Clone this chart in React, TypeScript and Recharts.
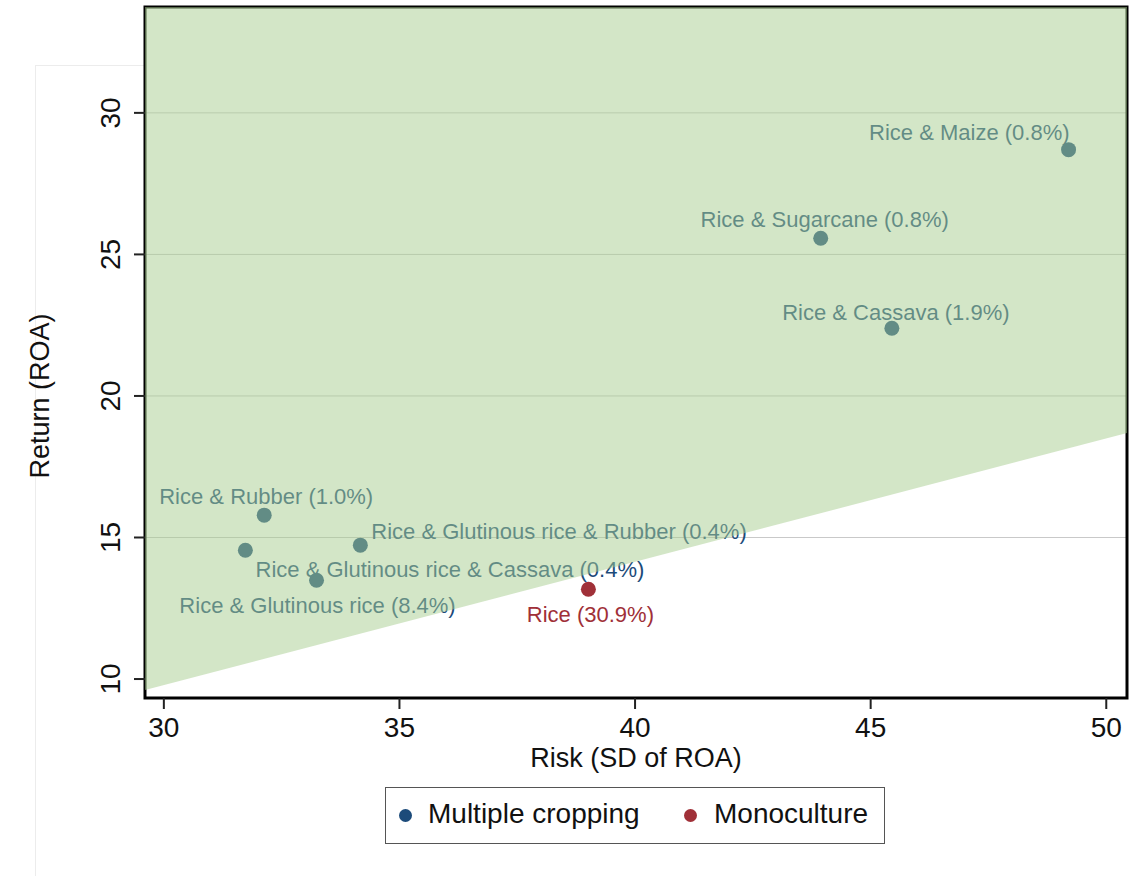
import {
  ComposedChart, Scatter, Area, XAxis, YAxis, CartesianGrid, ReferenceArea, Label,
} from 'recharts'

const NAVY = '#1c4b7a'
const RED = '#a03038'
const FONT = '"Liberation Sans", Arial, Helvetica, sans-serif'

// risk (SD of ROA), return (ROA)
const MULTIPLE = [
  { name: 'Rice & Maize (0.8%)', x: 49.2, y: 28.7 },
  { name: 'Rice & Sugarcane (0.8%)', x: 43.94, y: 25.57 },
  { name: 'Rice & Cassava (1.9%)', x: 45.45, y: 22.39 },
  { name: 'Rice & Rubber (1.0%)', x: 32.13, y: 15.79 },
  { name: 'Rice & Glutinous rice (8.4%)', x: 31.73, y: 14.55 },
  { name: 'Rice & Glutinous rice & Rubber (0.4%)', x: 34.17, y: 14.73 },
  { name: 'Rice & Glutinous rice & Cassava (0.4%)', x: 33.24, y: 13.49 },
]
const MONO = [{ name: 'Rice (30.9%)', x: 39.01, y: 13.17 }]

// shaded region above this line
const FRONTIER = [
  { x: 29.6, y: 9.61 },
  { x: 50.44, y: 18.69 },
]

const X_DOMAIN = [29.6, 50.44]
const Y_DOMAIN = [9.33, 33.74]
const X_TICKS = [30, 35, 40, 45, 50]
const Y_TICKS = [10, 15, 20, 25, 30]
const GRID_Y = [15, 20, 25, 30]

// label placement relative to marker (px)
const LABEL_POS: Record<string, { dx: number; dy: number; anchor: 'start' | 'middle' | 'end' }> = {
  'Rice & Maize (0.8%)': { dx: 1, dy: -10, anchor: 'end' },
  'Rice & Sugarcane (0.8%)': { dx: 4, dy: -11, anchor: 'middle' },
  'Rice & Cassava (1.9%)': { dx: 4, dy: -8, anchor: 'middle' },
  'Rice & Rubber (1.0%)': { dx: 2, dy: -11, anchor: 'middle' },
  'Rice & Glutinous rice (8.4%)': { dx: -66, dy: 63, anchor: 'start' },
  'Rice & Glutinous rice & Rubber (0.4%)': { dx: 11, dy: -6, anchor: 'start' },
  'Rice & Glutinous rice & Cassava (0.4%)': { dx: -61, dy: -3, anchor: 'start' },
  'Rice (30.9%)': { dx: 2, dy: 33, anchor: 'middle' },
}

const pointShape = (color: string) => (props: any) => {
  const { cx, cy, payload } = props
  const p = LABEL_POS[payload.name] || { dx: 0, dy: -10, anchor: 'middle' }
  return (
    <g>
      <circle cx={cx} cy={cy} r={7.5} fill={color} />
      <text x={cx + p.dx} y={cy + p.dy} textAnchor={p.anchor} fill={color}
        fontSize={22} fontFamily={FONT}>
        {payload.name}
      </text>
    </g>
  )
}

const XTick = ({ x, y, payload }: any) => (
  <text x={x} y={y + 26} textAnchor="middle" fontSize={28} fontFamily={FONT} fill="#111">
    {payload.value}
  </text>
)

const YTick = ({ x, y, payload }: any) => (
  <text x={x - 12} y={y} textAnchor="middle" fontSize={28} fontFamily={FONT} fill="#111"
    transform={`rotate(-90 ${x - 12} ${y})`}>
    {payload.value}
  </text>
)

export default function App() {
  return (
    <div style={{ position: 'absolute', left: 0, top: 0, width: 1132, height: 876, background: '#fff' }}>
      <div style={{ position: 'absolute', left: 35, top: 65, width: 110, height: 811,
        borderLeft: '1px solid #ececec', borderTop: '1px solid #ececec' }} />
      <div style={{ position: 'absolute', left: 0, top: 0 }}>
        <ComposedChart width={1132} height={876} margin={{ top: 7, right: 5, bottom: 88, left: 0 }}>
          <CartesianGrid horizontal vertical={false} horizontalValues={GRID_Y} stroke="#c9c9c9" />
          <XAxis type="number" dataKey="x" domain={X_DOMAIN} ticks={X_TICKS} allowDataOverflow
            height={90} tickSize={11} tick={<XTick />} axisLine={false}
            tickLine={{ stroke: '#222', strokeWidth: 2 }}>
            <Label content={() => (
              <text x={636} y={767} textAnchor="middle" fontSize={27} fontFamily={FONT} fill="#111">
                Risk (SD of ROA)
              </text>
            )} />
          </XAxis>
          <YAxis type="number" dataKey="y" domain={Y_DOMAIN} ticks={Y_TICKS} allowDataOverflow
            width={145} tickSize={11} tick={<YTick />} axisLine={false}
            tickLine={{ stroke: '#222', strokeWidth: 2 }}>
            <Label content={() => (
              <text x={49} y={396} textAnchor="middle" fontSize={27} fontFamily={FONT} fill="#111"
                transform="rotate(-90 49 396)">
                Return (ROA)
              </text>
            )} />
          </YAxis>
          <ReferenceArea x1={X_DOMAIN[0]} x2={X_DOMAIN[1]} y1={Y_DOMAIN[0]} y2={Y_DOMAIN[1]}
            fill="none" fillOpacity={0} stroke="#000" strokeWidth={3} ifOverflow="visible" />
          <Scatter name="Multiple cropping" data={MULTIPLE} fill={NAVY}
            shape={pointShape(NAVY)} isAnimationActive={false} />
          <Scatter name="Monoculture" data={MONO} fill={RED}
            shape={pointShape(RED)} isAnimationActive={false} />
          <Area data={FRONTIER} dataKey="y" type="linear" baseValue={Y_DOMAIN[1]}
            stroke="none" fill="#a7cd8f" fillOpacity={0.5} isAnimationActive={false}
            {...({ zIndex: 3000 } as any)} />
        </ComposedChart>
      </div>
      <div style={{ position: 'absolute', left: 385, top: 787, width: 500, height: 57,
        border: '1px solid #555', boxSizing: 'border-box', fontFamily: FONT, fontSize: 28,
        color: '#111' }}>
        <span style={{ position: 'absolute', left: 13, top: 21, width: 13, height: 13,
          borderRadius: '50%', background: NAVY }} />
        <span style={{ position: 'absolute', left: 42, top: 10, lineHeight: '32px' }}>Multiple cropping</span>
        <span style={{ position: 'absolute', left: 298, top: 21, width: 13, height: 13,
          borderRadius: '50%', background: RED }} />
        <span style={{ position: 'absolute', left: 328, top: 10, lineHeight: '32px' }}>Monoculture</span>
      </div>
    </div>
  )
}
